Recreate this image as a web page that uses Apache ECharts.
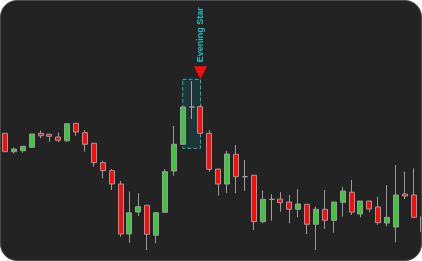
<!DOCTYPE html>
<html>
<head>
<meta charset="utf-8">
<script src="https://cdn.jsdelivr.net/npm/echarts@6/dist/echarts.min.js"></script>
<style>
  html, body { margin: 0; padding: 0; background: #ffffff; width: 422px; height: 261px; overflow: hidden; }
  #card { position: absolute; left: 0; top: 0; width: 422px; height: 261px; box-sizing: border-box;
          border: 1px solid #4d4d4d; border-radius: 17px; background: #232323; overflow: hidden; }
  #chart { position: absolute; left: -1px; top: -1px; width: 430px; height: 261px; }
</style>
</head>
<body>
<div id="card"><div id="chart"></div></div>
<script>
// Candle index labels
const categories = [];
for (let i = 1; i <= 48; i++) categories.push('C' + i);

// OHLC values: [open, close, low, high]
const opens  = [127.7,109.3,110.3,113.7,127.7,126.7,124.0,120.3,137.7,128.3,117.7,98.3,90.3,77.0,27.0,49.0,55.7,25.7,48.7,90.0,116.7,154.0,154.3,127.7,92.0,77.0,106.7,84.3,85.7,39.3,61.7,62.0,59.0,51.7,56.7,36.7,51.7,40.7,58.7,68.8,47.0,60.0,54.0,38.0,34.0,67.0,66.0,44.3];
const closes = [109.3,112.0,114.7,127.0,125.3,124.7,120.7,137.3,129.0,116.7,98.3,90.3,77.0,27.0,48.3,54.3,26.7,48.3,89.3,116.7,154.0,154.0,127.7,91.7,77.0,107.0,84.3,84.3,39.3,61.7,61.7,58.3,51.7,57.0,36.7,51.7,40.7,59.0,70.0,48.9,60.0,52.0,38.3,43.7,66.0,65.0,43.7,29.3];
const lows   = [109.3,107.7,108.3,113.0,122.7,119.3,118.7,119.0,125.3,109.3,94.3,82.7,71.0,24.3,18.3,45.0,11.0,17.7,48.7,85.3,116.7,142.0,127.7,89.3,65.3,67.7,67.7,70.3,31.0,37.7,40.3,49.3,37.7,43.7,27.0,11.0,32.0,28.3,44.3,46.0,43.7,48.7,36.3,34.7,18.7,62.0,42.7,29.3];
const highs  = [127.7,113.7,114.7,127.0,130.3,127.3,128.7,137.3,137.7,131.0,117.7,100.3,92.0,80.0,69.3,67.7,55.7,48.3,92.0,135.0,154.0,180.0,154.3,131.0,92.0,110.3,116.0,101.0,85.7,70.5,66.8,68.8,66.0,71.7,56.7,54.3,71.0,59.0,74.3,81.0,60.0,60.0,64.3,76.0,96.0,89.3,92.7,44.3];

// Pattern annotation
const patternName = 'Evening Star';
const patternStart = 20;   // index of first candle of the pattern
const patternEnd = 22;     // index of last candle of the pattern

const candleData = opens.map((o, i) => [o, closes[i], lows[i], highs[i]]);

let pHigh = -Infinity, pLow = Infinity;
for (let i = patternStart; i <= patternEnd; i++) {
  pHigh = Math.max(pHigh, highs[i]);
  pLow = Math.min(pLow, lows[i]);
}
const boxTop = pHigh + 1.7;
const boxBottom = pLow - 4;

const chart = echarts.init(document.getElementById('chart'), null, { renderer: 'canvas' });
chart.setOption({
  animation: false,
  backgroundColor: 'transparent',
  grid: { left: 0.56, width: 426.5, top: 0, height: 261 },
  xAxis: { type: 'category', data: categories, show: false, boundaryGap: true },
  yAxis: { type: 'value', min: 0, max: 261, show: false, splitLine: { show: false } },
  series: [{
    type: 'candlestick',
    data: candleData,
    barWidth: '62%',
    itemStyle: {
      color: '#3cc83c', color0: '#ff0a0a',
      borderColor: '#9a9a9a', borderColor0: '#9a9a9a', borderColorDoji: '#a0a0a0',
      borderWidth: 1
    },
    markArea: {
      silent: true,
      itemStyle: {
        color: 'rgba(0,160,160,0.16)', borderColor: '#1fb3b8', borderWidth: 1, borderType: 'dashed'
      },
      data: [[
        { coord: [patternStart, boxTop] },
        { coord: [patternEnd, boxBottom] }
      ]]
    },
    markPoint: {
      silent: true,
      data: [{
        coord: [patternEnd, boxTop],
        symbol: 'triangle',
        symbolRotate: 180,
        symbolSize: [13, 13],
        symbolOffset: [0, -6.5],
        itemStyle: { color: '#ff0a0a' },
        label: {
          show: true,
          formatter: patternName,
          position: 'top',
          distance: 4,
          rotate: 90,
          align: 'left',
          verticalAlign: 'middle',
          color: '#1fbcc4',
          fontFamily: 'Liberation Sans, Arial, sans-serif',
          fontWeight: 'bold',
          fontSize: 9
        }
      }]
    }
  }]
});
</script>
</body>
</html>
